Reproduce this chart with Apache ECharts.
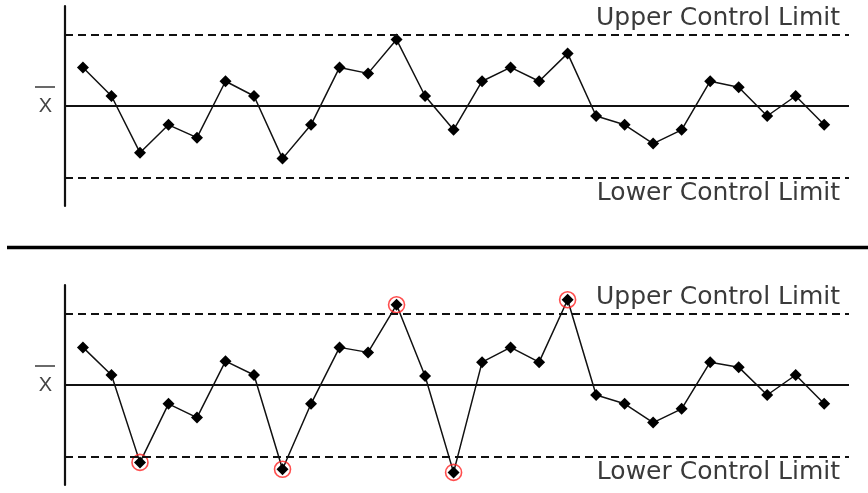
<!DOCTYPE html>
<html>
<head>
<meta charset="utf-8">
<script src="https://cdn.jsdelivr.net/npm/echarts@6/dist/echarts.min.js"></script>
<style>html,body{margin:0;padding:0;background:#fff;}#c{width:868px;height:493px;}</style>
</head>
<body>
<div id="c"></div>
<script>
const samples = [1,2,3,4,5,6,7,8,9,10,11,12,13,14,15,16,17,18,19,20,21,22,23,24,25,26,27];
const topValues = [1.62,0.42,-1.96,-0.79,-1.33,1.04,0.42,-2.21,-0.79,1.62,1.37,2.79,0.42,-1.0,1.04,1.62,1.04,2.21,-0.42,-0.79,-1.58,-1.0,1.04,0.79,-0.42,0.42,-0.79];
const bottomValues = [1.58,0.42,-3.25,-0.79,-1.37,1.0,0.42,-3.54,-0.79,1.58,1.37,3.37,0.38,-3.67,0.96,1.58,0.96,3.58,-0.42,-0.79,-1.58,-1.0,0.96,0.75,-0.42,0.42,-0.79];
const UCL = 3, CL = 0, LCL = -3;
const uclLabel = 'Upper Control Limit';
const lclLabel = 'Lower Control Limit';
const meanLabel = 'X';

const FONT = 'DejaVu Sans';
const chart = echarts.init(document.getElementById('c'));

function pts(vals){ return samples.map((s,i)=>[s, vals[i]]); }

function limitLines(){
  return {
    symbol: 'none', silent: true, animation: false,
    data: [
      {yAxis: UCL, lineStyle:{type:[8,5], color:'#111', width:1.8},
       label:{show:true, formatter: uclLabel, position:'insideEndTop', distance:[9,4], fontFamily:FONT, fontSize:25, color:'#3a3a3a'}},
      {yAxis: CL, lineStyle:{type:'solid', color:'#111', width:1.8}, label:{show:false}},
      {yAxis: LCL, lineStyle:{type:[8,5], color:'#111', width:1.8},
       label:{show:true, formatter: lclLabel, position:'insideEndBottom', distance:[9,4], fontFamily:FONT, fontSize:25, color:'#3a3a3a'}}
    ]
  };
}

const grids = [
  {left: 65, width: 784, top: 6, height: 200},
  {left: 65, width: 784, top: 285, height: 200}
];

function xAx(i){ return {type:'value', gridIndex:i, min:0.37, max:27.87, show:false}; }
function yAx(i){
  return {type:'value', gridIndex:i, min:-4.2, max:4.2, interval:4.2,
    axisLine:{show:true, lineStyle:{color:'#111', width:2.2}},
    axisTick:{show:false}, splitLine:{show:false},
    axisLabel:{show:true, margin:13, fontFamily:'Liberation Sans', fontSize:20, color:'#444',
      formatter: v => Math.abs(v) < 1e-9 ? meanLabel : ''}};
}

const outPts = samples.map((s,i)=>[s,bottomValues[i]]).filter(p => p[1] > UCL || p[1] < LCL);

const option = {
  backgroundColor:'#fff',
  animation:false,
  grid: grids,
  xAxis: [xAx(0), xAx(1)],
  yAxis: [yAx(0), yAx(1)],
  series: [
    {type:'line', xAxisIndex:0, yAxisIndex:0, data: pts(topValues), symbol:'diamond', symbolSize:12,
     itemStyle:{color:'#000'}, lineStyle:{color:'#111', width:1.5}, markLine: limitLines(), z:3},
    {type:'line', xAxisIndex:1, yAxisIndex:1, data: pts(bottomValues), symbol:'diamond', symbolSize:12,
     itemStyle:{color:'#000'}, lineStyle:{color:'#111', width:1.5}, markLine: limitLines(), z:3},
    {type:'scatter', xAxisIndex:1, yAxisIndex:1, data: outPts, symbol:'circle', symbolSize:16,
     itemStyle:{color:'rgba(0,0,0,0)', borderColor:'#f22', borderWidth:1.6}, z:4}
  ]
};
chart.setOption(option);

// decorations: overline on the X label and separator bar
const g = [];
[0,1].forEach(i => {
  const p = chart.convertToPixel({gridIndex:i}, [0.37, CL]);
  g.push({type:'line', shape:{x1:p[0]-30, y1:p[1]-19, x2:p[0]-10, y2:p[1]-19}, style:{stroke:'#444', lineWidth:1.6}});
});
const t0 = chart.convertToPixel({gridIndex:0}, [0.37, -4.2]);
const t1 = chart.convertToPixel({gridIndex:1}, [0.37, 4.2]);
const sepY = Math.round((t0[1] + t1[1]) / 2) + 1.5;
g.push({type:'line', shape:{x1:7, y1:sepY, x2:868, y2:sepY}, style:{stroke:'#000', lineWidth:3.5}});
chart.setOption({graphic: g});
</script>
</body>
</html>
